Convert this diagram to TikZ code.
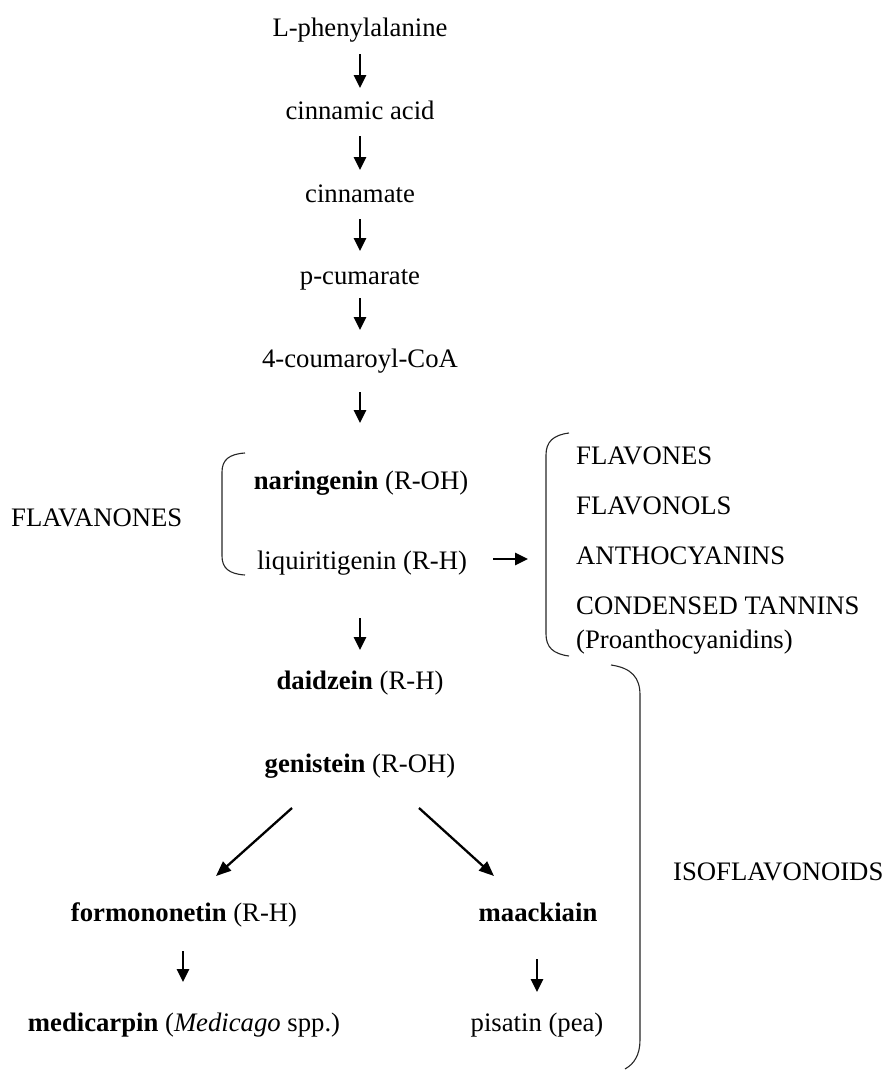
\documentclass[tikz,border=0pt]{standalone}
\usepackage{fontspec}
\setmainfont{Liberation Serif}
\usetikzlibrary{arrows.meta,calc}
\begin{document}
\begin{tikzpicture}[x=1pt,y=-1pt,
  every node/.style={inner sep=0pt, font=\fontsize{26.7}{32}\selectfont},
  lbl/.style={anchor=base},
  lw/.style={anchor=base west},
  arr/.style={line width=2.8pt, -{Triangle[length=13pt,width=12pt]}},
  darr/.style={line width=2.3pt, -{Triangle[length=15pt,width=12pt]}},
  brk/.style={line width=1.1pt, black!85}]
\useasboundingbox (0,0) rectangle (888,1072);
\node[lbl] (lphe) at (360,36) {L-phenylalanine};
\node[lbl] (cinac) at (360,119) {cinnamic acid};
\node[lbl] (cinn) at (360,202) {cinnamate};
\node[lbl] (pcum) at (360,284) {p-cumarate};
\node[lbl] (coum) at (360,367) {4-coumaroyl-CoA};
\node[lbl] (nar) at (361,489) {\textbf{naringenin} (R-OH)};
\node[lw] (flavan) at (11,526) {FLAVANONES};
\node[lbl] (liq) at (362,569) {liquiritigenin (R-H)};
\node[lw] (flavones) at (576,464) {FLAVONES};
\node[lw] (flavonols) at (576,514) {FLAVONOLS};
\node[lw] (antho) at (576,564) {ANTHOCYANINS};
\node[lw] (tann) at (576,614) {CONDENSED TANNINS};
\node[lw] (proa) at (576,648) {(Proanthocyanidins)};
\node[lbl] (daid) at (360,689) {\textbf{daidzein} (R-H)};
\node[lbl] (gen) at (360,772) {\textbf{genistein} (R-OH)};
\node[lbl] (formo) at (184,921) {\textbf{formononetin} (R-H)};
\node[lbl] (maack) at (538,921) {\textbf{maackiain}};
\node[lbl] (medi) at (184,1031) {\textbf{medicarpin} (\textit{Medicago} spp.)};
\node[lbl] (pis) at (537,1031) {pisatin (pea)};
\node[lw] (iso) at (673,880) {ISOFLAVONOIDS};

\draw[arr] ($(lphe.base)+(0,18)$) -- ($(cinac.base)+(0,-31)$);
\draw[arr] ($(cinac.base)+(0,17)$) -- ($(cinn.base)+(0,-32)$);
\draw[arr] ($(cinn.base)+(0,17)$) -- ($(pcum.base)+(0,-33)$);
\draw[arr] ($(pcum.base)+(0,14)$) -- ($(coum.base)+(0,-37)$);
\draw[arr] ($(coum.base)+(0,25)$) -- ($(nar.base)+(-1,-66)$);
\draw[arr] ($(liq.base)+(-2,49)$) -- ($(daid.base)+(0,-39)$);
\draw[arr] ($(liq.base east)+(26,-10)$) -- ($(antho.base west)+(-48,-5)$);
\draw[darr] ($(gen.base)+(-68,36)$) -- ($(formo.base)+(32,-45)$);
\draw[darr] ($(gen.base)+(59,36)$) -- ($(maack.base)+(-44,-45)$);
\draw[arr] ($(formo.base)+(-1,30)$) -- ($(medi.base)+(-1,-49)$);
\draw[arr] ($(maack.base)+(-1,38)$) -- ($(pis.base)+(0,-39)$);

\draw[brk] (245,453) .. controls (229,454) and (222,460) .. (222,472) -- (222,556) .. controls (222,568) and (229,574) .. (245,575);
\draw[brk] (569,433) .. controls (553,435) and (546,442) .. (546,455) -- (546,634) .. controls (546,647) and (553,654) .. (569,656);
\draw[brk] (611,665) .. controls (632,668) and (640,678) .. (640,695) -- (640,1040) .. controls (640,1055) and (634,1064) .. (625,1069);
\end{tikzpicture}
\end{document}
